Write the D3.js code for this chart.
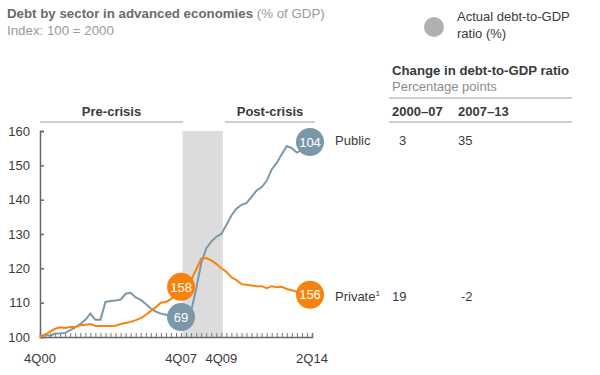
<!DOCTYPE html>
<html>
<head>
<meta charset="utf-8">
<script src="https://cdn.jsdelivr.net/npm/d3@7"></script>
<style>
  body { margin: 0; background: #fff; }
  svg { font-family: "Liberation Sans", Arial, sans-serif; }
</style>
</head>
<body>
<div id="viz"></div>
<script>
const width = 600;
const height = 375;
const margin = {top: 131, right: 288, bottom: 38, left: 40};
const colorPublic = '#7a98a9';
const colorPrivate = '#f7830f';
const colorText = '#3a3a3a';
const colorGrey = '#8c8c8c';

// Quarters from 4Q00 (index 0) to 2Q14 (index 54), index 100 = 2000
const quarterCount = 54;
const publicDebt = [
  100, 100.8, 100.3, 101, 101, 101.2, 102, 102.8, 103.8, 105,
  106.8, 105, 105, 110.2, 110.5, 110.6, 110.9, 112.6, 112.9, 111.5,
  110.8, 109.6, 108.3, 107.4, 106.8, 106.5, 106.2, 105.9, 105.8, 106.4,
  107.5, 114, 121.5, 125.8, 127.8, 129.2, 130, 132.6, 135.4, 137.4,
  138.5, 139, 140.8, 142.7, 143.6, 145.5, 148.8, 150.7, 153.2, 155.6,
  155, 153.7, 154.5, 156, 156.8
];
const privateDebt = [
  100, 100.6, 101.6, 102.4, 102.8, 102.6, 102.9, 102.9, 103.4, 103.6,
  103.8, 103.2, 103.2, 103.2, 103.2, 103.3, 103.8, 104.1, 104.4, 104.9,
  105.5, 106.4, 107.6, 108.7, 110, 110.2, 111, 112.6, 114.6, 115.6,
  116.6, 119.6, 122.8, 123, 122.3, 121.3, 120, 119, 117.4, 116.6,
  115.4, 115.2, 115, 114.8, 114.8, 114.2, 114.8, 114.5, 114.6, 114,
  113.6, 113.2, 112.8, 112.5, 112.3
];
const yTicks = [100, 110, 120, 130, 140, 150, 160];
const xLabels = [
  {q: 0, label: '4Q00'},
  {q: 28, label: '4Q07'},
  {q: 36, label: '4Q09'},
  {q: 54, label: '2Q14'}
];
const crisisBand = [28.3, 36.3];
const bubbles = [
  {series: 'public', q: 28, label: '69'},
  {series: 'public', q: 54, label: '104'},
  {series: 'private', q: 28, label: '158'},
  {series: 'private', q: 54, label: '156'}
];
const tableRows = [
  {name: 'Public', sup: '', series: 'public', pre: '3', post: '35'},
  {name: 'Private', sup: '1', series: 'private', pre: '19', post: '-2'}
];

const svg = d3.select('#viz')
  .append('svg')
    .attr('width', width)
    .attr('height', height);

const xScale = d3.scaleLinear()
  .domain([0, quarterCount])
  .range([margin.left, width - margin.right]);
const yScale = d3.scaleLinear()
  .domain([100, 160])
  .range([height - margin.bottom, margin.top]);

// Crisis band
svg.append('rect')
  .attr('x', xScale(crisisBand[0]))
  .attr('y', yScale(160))
  .attr('width', xScale(crisisBand[1]) - xScale(crisisBand[0]))
  .attr('height', yScale(100) - yScale(160))
  .attr('fill', '#dcdcdc');

// Y axis
const yAxis = d3.axisLeft(yScale)
  .tickValues(yTicks)
  .tickSize(-4)
  .tickPadding(10);
const yAxisGroup = svg.append('g')
  .attr('transform', `translate(${margin.left}, 0)`)
  .call(yAxis);
yAxisGroup.select('.domain').attr('stroke', '#666').attr('stroke-width', 1.5);
yAxisGroup.selectAll('.tick line').attr('stroke', '#666').attr('stroke-width', 1.5);
yAxisGroup.selectAll('.tick text')
  .attr('fill', colorText)
  .style('font-size', '13px')
  .style('font-family', '"Liberation Sans", Arial, sans-serif');

// X axis: quarter ticks pointing up
const xAxis = d3.axisBottom(xScale)
  .tickValues(d3.range(0, quarterCount + 1))
  .tickSize(-4)
  .tickFormat('');
const xAxisGroup = svg.append('g')
  .attr('transform', `translate(0, ${yScale(100)})`)
  .call(xAxis);
xAxisGroup.select('.domain').attr('stroke', '#666').attr('stroke-width', 1.5);
xAxisGroup.selectAll('.tick line').attr('stroke', '#777').attr('stroke-width', 1);

svg.selectAll('.x-label')
  .data(xLabels)
  .join('text')
    .attr('class', 'x-label')
    .attr('x', d => xScale(d.q))
    .attr('y', 363)
    .attr('text-anchor', 'middle')
    .attr('fill', colorText)
    .style('font-size', '13px')
    .text(d => d.label);

// Lines
const line = d3.line()
  .x((d, i) => xScale(i))
  .y(d => yScale(d));

svg.append('path')
  .datum(publicDebt)
  .attr('d', line)
  .attr('fill', 'none')
  .attr('stroke', colorPublic)
  .attr('stroke-width', 2);
svg.append('path')
  .datum(privateDebt)
  .attr('d', line)
  .attr('fill', 'none')
  .attr('stroke', colorPrivate)
  .attr('stroke-width', 2);

// Bubbles with actual ratios
const valueOf = d => (d.series === 'public' ? publicDebt : privateDebt)[d.q];
const bubbleGroups = svg.selectAll('.bubble')
  .data(bubbles)
  .join('g')
    .attr('class', 'bubble')
    .attr('transform', d => `translate(${xScale(d.q) - (d.q === quarterCount ? 2 : 0)}, ${yScale(valueOf(d))})`);
bubbleGroups.append('circle')
  .attr('r', 14)
  .attr('fill', d => d.series === 'public' ? colorPublic : colorPrivate);
bubbleGroups.append('text')
  .attr('text-anchor', 'middle')
  .attr('dy', '0.36em')
  .attr('fill', '#fff')
  .style('font-size', '13px')
  .text(d => d.label);

// Period headers
const periods = [
  {label: 'Pre-crisis', x0: 40, x1: 183},
  {label: 'Post-crisis', x0: 225, x1: 315}
];
svg.selectAll('.period-line')
  .data(periods)
  .join('line')
    .attr('x1', d => d.x0)
    .attr('x2', d => d.x1)
    .attr('y1', 122)
    .attr('y2', 122)
    .attr('stroke', '#d0d0d0')
    .attr('stroke-width', 2);
svg.selectAll('.period-label')
  .data(periods)
  .join('text')
    .attr('x', d => (d.x0 + d.x1) / 2)
    .attr('y', 116)
    .attr('text-anchor', 'middle')
    .attr('fill', colorText)
    .style('font-size', '13px')
    .style('font-weight', 'bold')
    .text(d => d.label);

// Title
const title = svg.append('text')
  .attr('x', 7)
  .attr('y', 18)
  .style('font-size', '13.3px');
title.append('tspan')
  .attr('fill', '#6b6b6b')
  .style('font-weight', 'bold')
  .text('Debt by sector in advanced economies');
title.append('tspan')
  .attr('fill', '#9a9a9a')
  .text(' (% of GDP)');
svg.append('text')
  .attr('x', 7)
  .attr('y', 35)
  .attr('fill', '#9a9a9a')
  .style('font-size', '13.3px')
  .text('Index: 100 = 2000');

// Legend
svg.append('circle')
  .attr('cx', 434)
  .attr('cy', 27)
  .attr('r', 10)
  .attr('fill', '#b0b0b0');
svg.append('text')
  .attr('x', 457)
  .attr('y', 21)
  .attr('fill', colorText)
  .style('font-size', '13px')
  .text('Actual debt-to-GDP');
svg.append('text')
  .attr('x', 457)
  .attr('y', 38)
  .attr('fill', colorText)
  .style('font-size', '13px')
  .text('ratio (%)');

// Table
svg.append('text')
  .attr('x', 392)
  .attr('y', 75)
  .attr('fill', colorText)
  .style('font-size', '13.2px')
  .style('font-weight', 'bold')
  .text('Change in debt-to-GDP ratio');
svg.append('text')
  .attr('x', 392)
  .attr('y', 91)
  .attr('fill', colorGrey)
  .style('font-size', '13px')
  .text('Percentage points');
svg.selectAll('.table-rule')
  .data([98, 122])
  .join('line')
    .attr('x1', 389)
    .attr('x2', 572)
    .attr('y1', d => d)
    .attr('y2', d => d)
    .attr('stroke', '#d0d0d0')
    .attr('stroke-width', 2);
svg.selectAll('.col-head')
  .data([{x: 392, t: '2000–07'}, {x: 458, t: '2007–13'}])
  .join('text')
    .attr('x', d => d.x)
    .attr('y', 116)
    .attr('fill', colorText)
    .style('font-size', '13px')
    .style('font-weight', 'bold')
    .text(d => d.t);

const rowY = {public: 145, private: 301};
const rows = svg.selectAll('.row')
  .data(tableRows)
  .join('g')
    .attr('transform', d => `translate(0, ${rowY[d.series]})`);
const nameText = rows.append('text')
  .attr('x', 335)
  .attr('fill', colorText)
  .style('font-size', '13px');
nameText.append('tspan').text(d => d.name);
nameText.append('tspan')
  .attr('dy', -5)
  .style('font-size', '8px')
  .text(d => d.sup);
rows.append('text')
  .attr('x', d => d.series === 'public' ? 399 : 392)
  .attr('fill', colorText)
  .style('font-size', '13px')
  .text(d => d.pre);
rows.append('text')
  .attr('x', d => d.series === 'public' ? 458 : 461)
  .attr('fill', colorText)
  .style('font-size', '13px')
  .text(d => d.post);
</script>
</body>
</html>
